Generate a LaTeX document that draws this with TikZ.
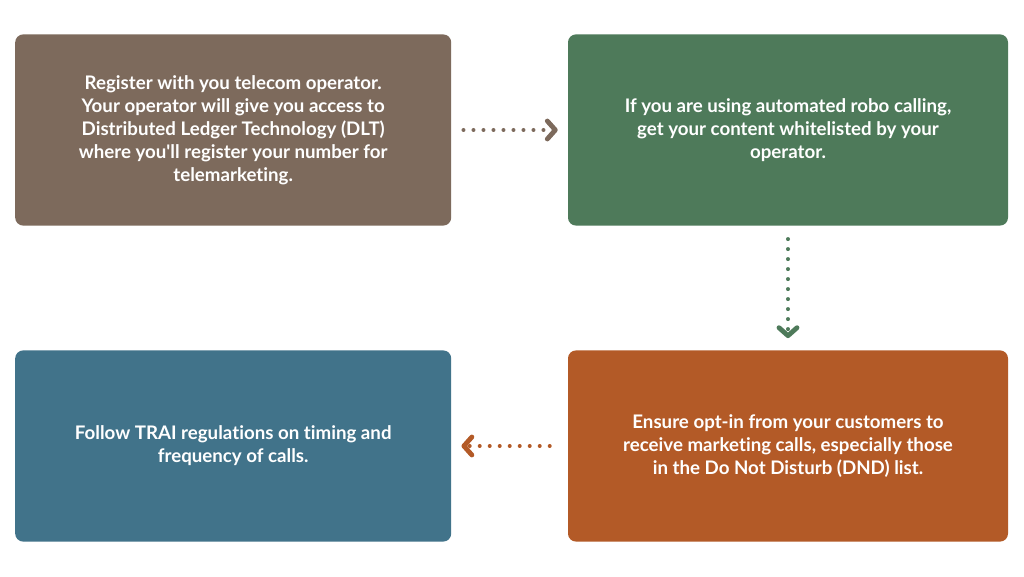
\documentclass[tikz,border=0pt]{standalone}
\usepackage{fontspec}
\setmainfont{Lato}[Ligatures=NoCommon]
\usetikzlibrary{arrows.meta,positioning}
\definecolor{stepbrown}{RGB}{125,106,92}
\definecolor{stepgreen}{RGB}{78,122,90}
\definecolor{stepblue}{RGB}{65,115,138}
\definecolor{steporange}{RGB}{179,90,39}

\begin{document}
\begin{tikzpicture}[
    card/.style={rectangle, rounded corners=0.2cm, minimum width=10.9cm,
        minimum height=4.78cm, text=white, align=center, inner sep=0pt,
        font=\fontsize{13.3pt}{16.3pt}\selectfont\bfseries},
    arr/.style={line width=0.1cm, line cap=round, dash pattern=on 0pt off 0.25cm,
        -{Straight Barb[length=0.2cm, width=0.45cm, line width=0.12cm, round]}}
]
    \useasboundingbox[fill=white] (0,0) rectangle (25.6,14.4);

    \node[card, fill=stepbrown] (reg) at (5.83,11.15) {Register with you telecom operator.\\
        Your operator will give you access to\\
        Distributed Ledger Technology (DLT)\\
        where you\textquotesingle ll register your number for\\
        telemarketing.};
    \node[card, fill=stepgreen, minimum width=11cm] (robo) at (19.7,11.15) {If you are using automated robo calling,\\
        get your content whitelisted by your\\
        operator.};
    \node[card, fill=steporange, minimum width=11cm] (optin) at (19.7,3.25) {Ensure opt-in from your customers to\\
        receive marketing calls, especially those\\
        in the Do Not Disturb (DND) list.};
    \node[card, fill=stepblue] (trai) at (5.83,3.25) {Follow TRAI regulations on timing and\\
        frequency of calls.};

    \draw[arr, stepbrown] ([xshift=0.3cm]reg.east) -- ([xshift=-0.25cm]robo.west);
    \draw[arr, stepgreen] ([yshift=-0.33cm]robo.south) -- ([yshift=0.3cm]optin.north);
    \draw[arr, steporange] ([xshift=-0.45cm]optin.west) -- ([xshift=0.25cm]trai.east);
\end{tikzpicture}
\end{document}
